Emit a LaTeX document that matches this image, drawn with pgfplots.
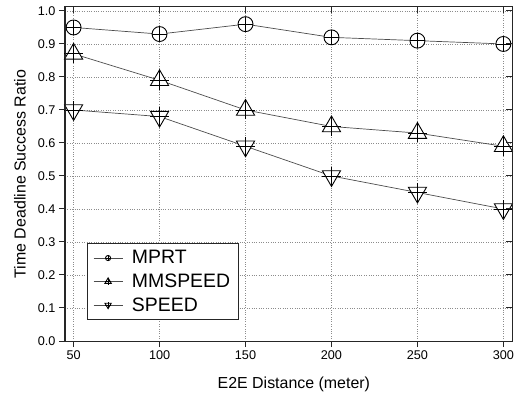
\documentclass[border=0pt]{standalone}
\usepackage{fontspec}
\setmainfont{Liberation Sans}
\usepackage{pgfplots}
\pgfplotsset{compat=1.18}

\pgfdeclareplotmark{cplus}{%
  \pgfpathcircle{\pgfpointorigin}{\pgfplotmarksize}\pgfusepathqfillstroke
  \pgfpathmoveto{\pgfpoint{-\pgfplotmarksize}{0pt}}\pgfpathlineto{\pgfpoint{\pgfplotmarksize}{0pt}}%
  \pgfpathmoveto{\pgfpoint{0pt}{-\pgfplotmarksize}}\pgfpathlineto{\pgfpoint{0pt}{\pgfplotmarksize}}%
  \pgfusepathqstroke}
\pgfdeclareplotmark{tplus}{%
  \pgfpathmoveto{\pgfpointpolar{90}{1.4\pgfplotmarksize}}%
  \pgfpathlineto{\pgfpointpolar{210}{1.4\pgfplotmarksize}}%
  \pgfpathlineto{\pgfpointpolar{330}{1.4\pgfplotmarksize}}%
  \pgfpathclose\pgfusepathqfillstroke
  \pgfpathmoveto{\pgfpoint{-1.25\pgfplotmarksize}{0pt}}\pgfpathlineto{\pgfpoint{1.25\pgfplotmarksize}{0pt}}%
  \pgfpathmoveto{\pgfpoint{0pt}{-1.25\pgfplotmarksize}}\pgfpathlineto{\pgfpoint{0pt}{1.25\pgfplotmarksize}}%
  \pgfusepathqstroke}
\pgfdeclareplotmark{iplus}{%
  \pgfpathmoveto{\pgfpointpolar{270}{1.4\pgfplotmarksize}}%
  \pgfpathlineto{\pgfpointpolar{30}{1.4\pgfplotmarksize}}%
  \pgfpathlineto{\pgfpointpolar{150}{1.4\pgfplotmarksize}}%
  \pgfpathclose\pgfusepathqfillstroke
  \pgfpathmoveto{\pgfpoint{-1.25\pgfplotmarksize}{0pt}}\pgfpathlineto{\pgfpoint{1.25\pgfplotmarksize}{0pt}}%
  \pgfpathmoveto{\pgfpoint{0pt}{-1.25\pgfplotmarksize}}\pgfpathlineto{\pgfpoint{0pt}{1.25\pgfplotmarksize}}%
  \pgfusepathqstroke}

\begin{document}
\begin{tikzpicture}
\begin{axis}[
  name=ax,
  width=447bp, height=334bp, scale only axis,
  xmin=45, xmax=305, ymin=0, ymax=1.012,
  xtick={50,100,150,200,250,300},
  ytick={0,0.1,0.2,0.3,0.4,0.5,0.6,0.7,0.8,0.9,1.0},
  yticklabel style={/pgf/number format/.cd, fixed, fixed zerofill, precision=1},
  /pgf/number format/assume math mode=true,
  tick label style={font=\fontsize{12.7}{14}\selectfont},
  tick align=outside, xtick pos=left, ytick pos=left,
  major tick length=6bp,
  tick style={black!85, line width=1bp},
  axis line style={black!85, line width=1bp},
  grid=major,
  major grid style={dotted, black!45, line width=0.6pt},
  xlabel={E2E Distance (meter)},
  ylabel={Time Deadline Success Ratio},
  label style={font=\fontsize{16}{18}\selectfont},
  xlabel style={at={(axis description cs:0.512,-0.1287)}, anchor=center},
  ylabel style={at={(axis description cs:-0.1007,0.5)}, anchor=center},
  legend style={at={(0.049,0.063)}, anchor=south west, draw=black!85, line width=0.8pt,
    font=\fontsize{19.5}{21}\selectfont, cells={anchor=west}, row sep=4.5bp,
    inner xsep=6bp, inner ysep=5bp},
  legend image code/.code={%
    \draw[mark repeat=2, mark phase=2, #1, mark size=2.6pt, line width=0.6pt]
      plot coordinates {(0bp,0bp) (14.5bp,0bp) (29bp,0bp)};
    \path (36bp,0bp);},
  every axis plot/.append style={black!70, line width=0.7pt,
    mark size=7.5pt, mark options={black, fill=white, line width=0.9pt}},
]
\addplot[mark=cplus] coordinates {(50,0.95) (100,0.93) (150,0.96) (200,0.92) (250,0.91) (300,0.90)};
\addlegendentry{MPRT}
\addplot[mark=tplus] coordinates {(50,0.87) (100,0.79) (150,0.70) (200,0.65) (250,0.63) (300,0.59)};
\addlegendentry{MMSPEED}
\addplot[mark=iplus] coordinates {(50,0.70) (100,0.68) (150,0.59) (200,0.50) (250,0.45) (300,0.40)};
\addlegendentry{SPEED}
\end{axis}
\begin{axis}[
  width=447bp, height=334bp, scale only axis,
  xmin=45, xmax=305, ymin=0, ymax=1.012,
  xtick={50,100,150,200,250,300},
  ytick={0,0.1,0.2,0.3,0.4,0.5,0.6,0.7,0.8,0.9,1.0},
  xticklabels={}, yticklabels={},
  tick align=inside, xtick pos=right, ytick pos=right,
  major tick length=6bp,
  tick style={black!85, line width=1bp},
  axis line style={black!85, line width=1bp},
]
\end{axis}
\pgfresetboundingbox
\path ([shift={(-65bp,-52bp)}]ax.south west) rectangle ([shift={(5bp,7bp)}]ax.north east);
\end{tikzpicture}
\end{document}
